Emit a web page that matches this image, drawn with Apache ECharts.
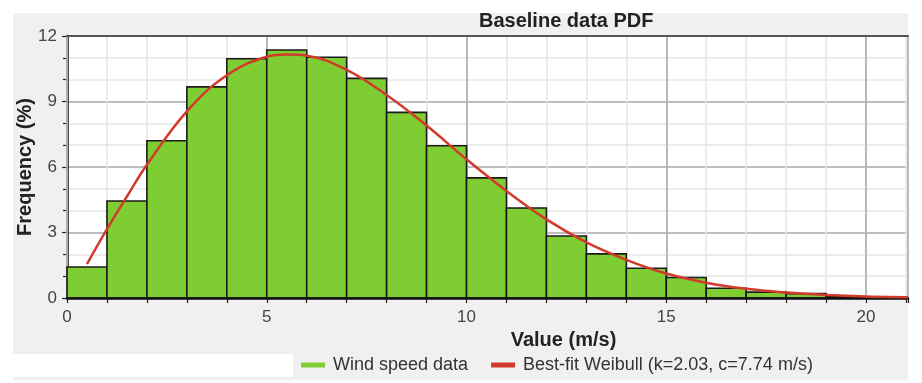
<!DOCTYPE html>
<html>
<head>
<meta charset="utf-8">
<script src="https://cdn.jsdelivr.net/npm/echarts@6/dist/echarts.min.js"></script>
<style>
  html, body { margin: 0; padding: 0; background: #fff; }
  #chart { width: 922px; height: 383px; }
</style>
</head>
<body>
<div id="chart"></div>
<script>
  // histogram bins (m/s) and frequency (%)
  var binStart = [0, 1, 2, 3, 4, 5, 6, 7, 8, 9, 10, 11, 12, 13, 14, 15, 16, 17, 18, 19, 20];
  var binFreq = [1.42, 4.44, 7.2, 9.67, 10.96, 11.36, 11.03, 10.06, 8.5, 6.97, 5.5, 4.12, 2.84, 2.02, 1.36, 0.94, 0.45, 0.27, 0.2, 0.05, 0.03];

  // fitted Weibull curve
  var fitX = [0.5, 1, 1.5, 2, 3, 4, 5, 5.5, 6, 7, 8, 9, 10, 11, 12, 13, 14, 15, 16, 17, 18, 19, 20, 21, 21.05];
  var fitY = [1.55, 3.15, 4.65, 6.1, 8.55, 10.2, 11.05, 11.15, 11.1, 10.45, 9.3, 7.9, 6.35, 4.9, 3.6, 2.55, 1.75, 1.12, 0.7, 0.42, 0.25, 0.14, 0.07, 0.04, 0.035];

  var xMax = 21.05;
  var green = '#7ecd32';
  var red = '#d23b2b';
  var font = 'Liberation Sans, Arial, sans-serif';

  var barData = [];
  for (var i = 0; i < binStart.length; i++) {
    barData.push([binStart[i], binStart[i] + 1, binFreq[i]]);
  }
  var lineData = [];
  for (var j = 0; j < fitX.length; j++) {
    lineData.push([fitX[j], fitY[j]]);
  }

  var chart = echarts.init(document.getElementById('chart'));
  var option = {
    animation: false,
    textStyle: { fontFamily: font },
    graphic: [
      { type: 'rect', z: -10, shape: { x: 13, y: 13, width: 895, height: 367 }, style: { fill: '#f0f0f0' } },
      { type: 'rect', z: -9, shape: { x: 13, y: 354, width: 280, height: 23 }, style: { fill: '#ffffff' } }
    ],
    title: {
      text: 'Baseline data PDF',
      left: 479,
      top: 11,
      padding: 0,
      textStyle: { fontSize: 20, fontWeight: 'bold', color: '#222', fontFamily: font }
    },
    legend: {
      left: 296,
      top: 351,
      itemWidth: 24,
      itemHeight: 5,
      itemGap: 23,
      icon: 'rect',
      textStyle: { fontSize: 18, color: '#333', fontFamily: font, padding: [0, 0, 0, 3] },
      data: ['Wind speed data', 'Best-fit Weibull (k=2.03, c=7.74 m/s)']
    },
    grid: {
      left: 67, right: 14, top: 36, bottom: 85,
      show: true, backgroundColor: '#ffffff', borderWidth: 0
    },
    xAxis: [
      {
        type: 'value', position: 'bottom', min: 0, max: xMax, interval: 5, z: 2,
        name: 'Value (m/s)', nameLocation: 'middle', nameGap: 32, nameMoveOverlap: false,
        nameTextStyle: { fontSize: 20, fontWeight: 'bold', color: '#222', padding: [0, 0, 0, 152] },
        axisLine: { lineStyle: { color: '#111', width: 2.5 } },
        axisTick: { show: false },
        axisLabel: {
          fontSize: 17, color: '#444', margin: 11,
          formatter: function (v) { return v % 5 === 0 ? String(v) : ''; }
        },
        splitLine: { lineStyle: { color: '#a8a8a8', width: 1.5 } }
      },
      {
        type: 'value', position: 'bottom', min: 0, max: xMax, interval: 1, z: 1,
        axisLine: { show: false },
        axisTick: { show: true, length: 5, lineStyle: { color: '#222', width: 1.2 } },
        axisLabel: { show: false },
        splitLine: { lineStyle: { color: '#e6e6e6', width: 1.5 } }
      },
      {
        type: 'value', position: 'top', min: 0, max: xMax, interval: 5, z: 2,
        axisLine: { lineStyle: { color: '#555', width: 2 } },
        axisTick: { show: false },
        axisLabel: { show: false },
        splitLine: { show: false }
      }
    ],
    yAxis: {
      type: 'value', min: 0, max: 12, interval: 3,
      name: 'Frequency (%)', nameLocation: 'middle', nameGap: 32, nameMoveOverlap: false,
      nameTextStyle: { fontSize: 20, fontWeight: 'bold', color: '#222' },
      axisLine: { show: true, lineStyle: { color: '#111', width: 2.5 } },
      axisTick: { show: true, length: 5, lineStyle: { color: '#222', width: 1.2 } },
      minorTick: { show: true, splitNumber: 3, length: 4, lineStyle: { color: '#222', width: 1.2 } },
      axisLabel: { fontSize: 17, color: '#444', margin: 10 },
      splitLine: { lineStyle: { color: '#a8a8a8', width: 1.5 } },
      minorSplitLine: { show: true, lineStyle: { color: '#e6e6e6', width: 1.5 } }
    },
    series: [
      {
        name: 'Wind speed data',
        type: 'custom',
        xAxisIndex: 0,
        color: green,
        data: barData,
        encode: { x: [0, 1], y: 2 },
        renderItem: function (params, api) {
          var p0 = api.coord([api.value(0), api.value(2)]);
          var p1 = api.coord([api.value(1), 0]);
          return {
            type: 'rect',
            shape: { x: p0[0], y: p0[1], width: p1[0] - p0[0], height: p1[1] - p0[1] },
            style: { fill: green, stroke: '#1a1a1a', lineWidth: 1.6 }
          };
        }
      },
      {
        name: 'Best-fit Weibull (k=2.03, c=7.74 m/s)',
        type: 'line',
        xAxisIndex: 0,
        data: lineData,
        smooth: 0.4,
        showSymbol: false,
        color: red,
        lineStyle: { color: red, width: 2.5 },
        z: 5
      }
    ]
  };
  chart.setOption(option);
</script>
</body>
</html>
